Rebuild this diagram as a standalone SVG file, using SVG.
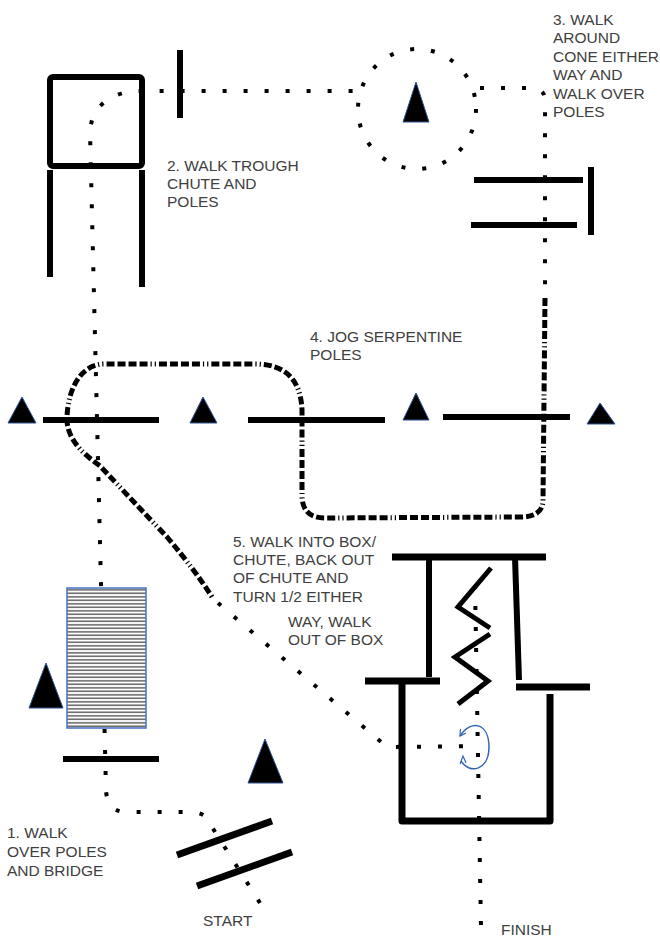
<svg xmlns="http://www.w3.org/2000/svg" width="660" height="940" viewBox="0 0 660 940">
<style>
.pole{stroke:#000;stroke-width:6;fill:none;stroke-linecap:butt}
.wall{stroke:#000;stroke-width:7;fill:none;stroke-linejoin:round}
.cone{fill:#000;stroke:#2f5597;stroke-width:1}
.dot{stroke:#000;stroke-width:4;fill:none;stroke-dasharray:4 17}
.ddd{stroke:#000;stroke-width:5;fill:none;stroke-dasharray:8 3 8 3 8 3 8 3 1.2 3 1.2 3}
.lbl{font-family:"Liberation Sans",Arial,sans-serif;font-size:15.5px;fill:#404040}
</style>
<defs>
<pattern id="stripes" patternUnits="userSpaceOnUse" x="0" y="588" width="10" height="3.5">
<rect x="0" y="0" width="10" height="3.5" fill="#fff"/>
<rect x="0" y="1.3" width="10" height="1" fill="#111"/>
</pattern>
<marker id="arr" markerWidth="8" markerHeight="8" refX="6" refY="4" orient="auto" markerUnits="userSpaceOnUse">
<path d="M0,0.5 L6,4 L0,7.5" fill="none" stroke="#3464b4" stroke-width="1.2"/>
</marker>
</defs>
<rect width="660" height="940" fill="#fff"/>

<g id="connectors">
<path class="dot" d="M260 903 L205 816 Q199 812 190 812 L125 812 Q107 811 106 790 L90 132 Q92 98 132 91 L355 91"/>
<ellipse class="dot" cx="417" cy="109" rx="59" ry="60"/>
<path class="dot" d="M480 88 L530 88 Q545 88 545 100 L545 298"/>
<path class="ddd" d="M545 298 L543 500 Q543 517 520 517 L325 518 Q302 518 302 495 L302 410 Q300 364 255 364 L105 364 C80 364 68 390 67 417 C66 440 85 455 100 466 L167 537 Q195 570 212 597"/>
<path class="dot" d="M218 603 L387 747 L478 746"/>
<path class="dot" d="M475 585 L481 928"/>
</g>

<g id="chute-box">
<rect x="50" y="77" width="92" height="89" rx="3" class="wall" style="stroke-width:6"/>
<line class="pole" x1="50" y1="170" x2="50" y2="277"/>
<line class="pole" x1="142" y1="170" x2="142" y2="287"/>
</g>
<g id="pole-top"><line class="pole" x1="180" y1="50" x2="180" y2="118"/></g>
<g id="cone-circle"><polygon class="cone" points="416,82 403,122 429,122"/></g>
<g id="poles-right">
<line class="pole" x1="474" y1="180" x2="583" y2="180"/>
<line class="pole" x1="471" y1="225" x2="577" y2="225"/>
<line class="pole" x1="591" y1="167" x2="591" y2="235"/>
</g>

<g id="serpentine">
<polygon class="cone" points="22,397 8,423 36,423"/>
<line class="pole" x1="43" y1="420" x2="159" y2="420"/>
<polygon class="cone" points="203,397 190,423 217,423"/>
<line class="pole" x1="248" y1="420" x2="385" y2="420"/>
<polygon class="cone" points="416,393 403,420 429,420"/>
<line class="pole" x1="443" y1="417" x2="570" y2="417"/>
<polygon class="cone" points="600,403 587,424 615,424"/>
</g>

<g id="bridge">
<rect x="67" y="588" width="79" height="140" fill="url(#stripes)" stroke="#4472c4" stroke-width="1.5"/>
</g>
<g id="bridge-cone"><polygon class="cone" points="46,663 29,708 63,708"/></g>
<g id="pole-bridge"><line class="pole" x1="63" y1="759" x2="159" y2="759"/></g>
<g id="cone-bottom"><polygon class="cone" points="265,739 248,783 283,783"/></g>
<g id="start-poles">
<line class="pole" style="stroke-width:7" x1="177" y1="855" x2="272" y2="821"/>
<line class="pole" style="stroke-width:7" x1="197" y1="886" x2="292" y2="852"/>
</g>

<g id="box-chute">
<line class="wall" x1="392" y1="557" x2="546" y2="557"/>
<line class="pole" x1="429" y1="557" x2="429" y2="677"/>
<line class="pole" x1="515" y1="557" x2="519" y2="680"/>
<line class="wall" x1="365" y1="681" x2="440" y2="681"/>
<line class="wall" x1="516" y1="687" x2="590" y2="687"/>
<path class="wall" d="M402 681 L402 821 L550 821 L550 694"/>
</g>
<g id="zigzag">
<polyline points="491,568 458,607 490,628" fill="none" stroke="#000" stroke-width="5"/>
<polyline points="490,634 455,657 488,681 458,704" fill="none" stroke="#000" stroke-width="5"/>
</g>
<g id="turn-loop">
<path d="M461 761 C470 775 489 770 489 747 C489 724 472 718 460 736" fill="none" stroke="#3464b4" stroke-width="1.5" marker-end="url(#arr)"/>
<path d="M460 764 L463 756 L466 763" fill="none" stroke="#3464b4" stroke-width="1.2"/>
</g>

<g id="labels">
<text class="lbl" x="167" y="171">2. WALK TROUGH</text>
<text class="lbl" x="167" y="189">CHUTE AND</text>
<text class="lbl" x="167" y="207">POLES</text>
<text class="lbl" x="553" y="25">3. WALK</text>
<text class="lbl" x="553" y="43">AROUND</text>
<text class="lbl" x="553" y="62">CONE EITHER</text>
<text class="lbl" x="553" y="80">WAY AND</text>
<text class="lbl" x="553" y="99">WALK OVER</text>
<text class="lbl" x="553" y="117">POLES</text>
<text class="lbl" x="310" y="342">4. JOG SERPENTINE</text>
<text class="lbl" x="310" y="360">POLES</text>
<text class="lbl" x="233" y="547">5. WALK INTO BOX/</text>
<text class="lbl" x="233" y="565">CHUTE, BACK OUT</text>
<text class="lbl" x="233" y="583">OF CHUTE AND</text>
<text class="lbl" x="233" y="602">TURN 1/2 EITHER</text>
<text class="lbl" x="288" y="627">WAY, WALK</text>
<text class="lbl" x="288" y="645">OUT OF BOX</text>
<text class="lbl" x="7" y="838">1. WALK</text>
<text class="lbl" x="7" y="857">OVER POLES</text>
<text class="lbl" x="7" y="876">AND BRIDGE</text>
<text class="lbl" x="203" y="926">START</text>
<text class="lbl" x="501" y="935">FINISH</text>
</g>
</svg>
